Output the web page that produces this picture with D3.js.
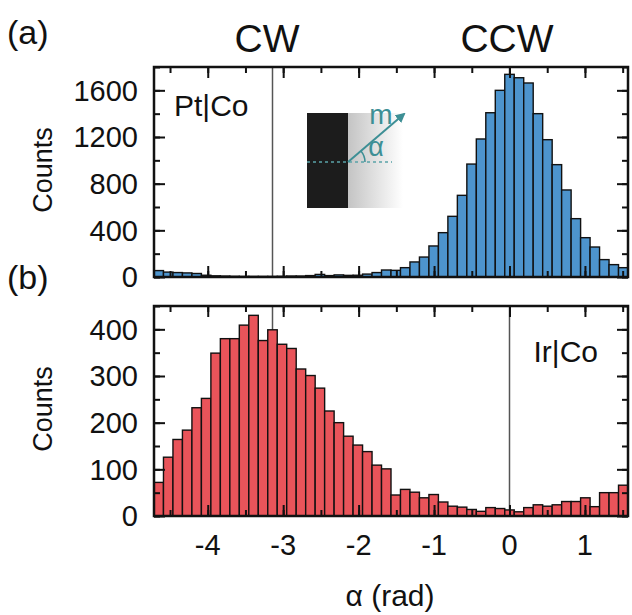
<!DOCTYPE html>
<html>
<head>
<meta charset="utf-8">
<script src="https://cdn.jsdelivr.net/npm/d3@7/dist/d3.min.js"></script>
<style>
  html, body { margin: 0; padding: 0; background: #fff; }
  svg { display: block; font-family: "Liberation Sans", Arial, sans-serif; }
</style>
</head>
<body>
<svg id="chart" width="632" height="615"></svg>
<script>
// ---- data ----
const binIndex = d3.range(-37, 13);            // bin k, centred at k*pi/25
const ptCoCounts = [55, 42, 38, 35, 30, 15, 10, 8, 6, 5, 5, 5, 5, 6, 8, 8, 12, 22, 12, 18,
  14, 15, 25, 38, 60, 57, 80, 129, 171, 266, 380, 520, 700, 968, 1183, 1408, 1600, 1737, 1708, 1663,
  1400, 1177, 963, 746, 500, 337, 257, 149, 106, 80];
const irCoCounts = [72, 126, 164, 184, 232, 252, 349, 380, 380, 409, 430, 376, 399, 368, 359, 315, 301, 274, 225, 200,
  171, 152, 138, 109, 101, 45, 57, 51, 39, 46, 30, 21, 19, 14, 10, 18, 16, 13, 9, 18,
  24, 21, 24, 31, 31, 39, 20, 50, 50, 66];
const xTicks = [-4, -3, -2, -1, 0, 1];
const topYTicks = [0, 400, 800, 1200, 1600];
const botYTicks = [0, 100, 200, 300, 400];
const markerLines = [-Math.PI, 0];

const binWidth = Math.PI / 25;
const svg = d3.select("#chart");

const x = d3.scaleLinear().domain([-1.5 * Math.PI, 0.5 * Math.PI]).range([154, 628]);

const panels = [
  { counts: ptCoCounts, y: d3.scaleLinear().domain([0, 1800]).range([277, 67]),
    ticks: topYTicks, minor: d3.range(0, 1801, 200), fill: "#4d94cd", label: "Pt|Co",
    labelX: 174, labelY: 116, labelAnchor: "start" },
  { counts: irCoCounts, y: d3.scaleLinear().domain([0, 450]).range([516, 306]),
    ticks: botYTicks, minor: d3.range(0, 451, 50), fill: "#e9545a", label: "Ir|Co",
    labelX: 598, labelY: 362, labelAnchor: "end" }
];

const xMinor = d3.range(-4.5, 1.6, 0.5);

panels.forEach((p, pi) => {
  const y = p.y;
  const [yb, yt] = y.range();
  const g = svg.append("g");

  // vertical marker lines (behind bars)
  g.selectAll("line.marker").data(markerLines).join("line")
    .attr("x1", d => x(d)).attr("x2", d => x(d))
    .attr("y1", yt).attr("y2", yb)
    .attr("stroke", "#555").attr("stroke-width", 1.5);

  // bars
  g.selectAll("rect.bar").data(binIndex.map((k, i) => ({ c: k * binWidth, v: p.counts[i] })))
    .join("rect")
    .attr("x", d => x(d.c - binWidth / 2))
    .attr("width", d => x(d.c + binWidth / 2) - x(d.c - binWidth / 2))
    .attr("y", d => y(d.v))
    .attr("height", d => yb - y(d.v))
    .attr("fill", p.fill)
    .attr("stroke", "#111").attr("stroke-width", 1.4);

  // ticks (inward) x: top & bottom
  const xAxB = d3.axisBottom(x).tickValues(xTicks).tickSize(-11).tickFormat("");
  const xAxT = d3.axisTop(x).tickValues(xTicks).tickSize(-11).tickFormat("");
  const xmB = d3.axisBottom(x).tickValues(xMinor).tickSize(-6).tickFormat("");
  const xmT = d3.axisTop(x).tickValues(xMinor).tickSize(-6).tickFormat("");
  [[xAxB, yb], [xmB, yb], [xAxT, yt], [xmT, yt]].forEach(([ax, yy]) => {
    const a = g.append("g").attr("transform", `translate(0,${yy})`).call(ax);
    a.select(".domain").remove();
    a.selectAll("line").attr("stroke", "#111").attr("stroke-width", 2);
  });
  const yAxL = d3.axisLeft(y).tickValues(p.ticks).tickSize(-11).tickFormat("");
  const yAxR = d3.axisRight(y).tickValues(p.ticks).tickSize(-11).tickFormat("");
  const ymL = d3.axisLeft(y).tickValues(p.minor).tickSize(-6).tickFormat("");
  const ymR = d3.axisRight(y).tickValues(p.minor).tickSize(-6).tickFormat("");
  [[yAxL, 154], [ymL, 154], [yAxR, 628], [ymR, 628]].forEach(([ax, xx]) => {
    const a = g.append("g").attr("transform", `translate(${xx},0)`).call(ax);
    a.select(".domain").remove();
    a.selectAll("line").attr("stroke", "#111").attr("stroke-width", 2);
  });

  // y tick labels
  g.selectAll("text.ytl").data(p.ticks).join("text")
    .attr("x", 138).attr("y", d => y(d)).attr("dy", "0.36em")
    .attr("text-anchor", "end").attr("font-size", 29).attr("fill", "#111")
    .text(d => d);

  // frame
  g.append("rect").attr("x", 154).attr("y", yt).attr("width", 628 - 154).attr("height", yb - yt)
    .attr("fill", "none").attr("stroke", "#111").attr("stroke-width", 2.5);

  // y title
  g.append("text")
    .attr("transform", `translate(52,${(yt + yb) / 2 - 2}) rotate(-90)`)
    .attr("text-anchor", "middle").attr("font-size", 27).attr("fill", "#111")
    .text("Counts");

  // sample label
  g.append("text").attr("x", p.labelX).attr("y", p.labelY)
    .attr("text-anchor", p.labelAnchor).attr("font-size", 30).attr("fill", "#111")
    .text(p.label);
});

// x tick labels (bottom)
svg.selectAll("text.xtl").data(xTicks).join("text")
  .attr("x", d => x(d)).attr("y", 555)
  .attr("text-anchor", "middle").attr("font-size", 29).attr("fill", "#111")
  .text(d => d);

svg.append("text").attr("x", 390).attr("y", 606).attr("text-anchor", "middle")
  .attr("font-size", 30).attr("fill", "#111").text("α (rad)");

// panel letters and headings
svg.append("text").attr("x", 7).attr("y", 44).attr("font-size", 34).attr("fill", "#111").text("(a)");
svg.append("text").attr("x", 7).attr("y", 289).attr("font-size", 34).attr("fill", "#111").text("(b)");
svg.append("text").attr("x", 267).attr("y", 52).attr("text-anchor", "middle")
  .attr("font-size", 39).attr("fill", "#111").text("CW");
svg.append("text").attr("x", 507).attr("y", 52).attr("text-anchor", "middle")
  .attr("font-size", 39).attr("fill", "#111").text("CCW");

// inset
const defs = svg.append("defs");
const grad = defs.append("linearGradient").attr("id", "shade").attr("x1", "0").attr("x2", "1");
grad.append("stop").attr("offset", "0").attr("stop-color", "#c4c4c4");
grad.append("stop").attr("offset", "1").attr("stop-color", "#ffffff");
defs.append("marker").attr("id", "ah").attr("viewBox", "0 0 10 10").attr("refX", 8).attr("refY", 5)
  .attr("markerWidth", 5).attr("markerHeight", 5).attr("orient", "auto")
  .append("path").attr("d", "M0,0 L10,5 L0,10 z").attr("fill", "#3d8f95");

const inset = svg.append("g");
inset.append("rect").attr("x", 348).attr("y", 113).attr("width", 55).attr("height", 95).attr("fill", "url(#shade)");
inset.append("rect").attr("x", 307).attr("y", 113).attr("width", 41).attr("height", 95).attr("fill", "#1c1c1c");
inset.append("line").attr("x1", 307).attr("x2", 392).attr("y1", 162).attr("y2", 162)
  .attr("stroke", "#5aa3a8").attr("stroke-width", 1.5).attr("stroke-dasharray", "3,3");
inset.append("line").attr("x1", 348).attr("y1", 162).attr("x2", 404).attr("y2", 114)
  .attr("stroke", "#3d8f95").attr("stroke-width", 2).attr("marker-end", "url(#ah)");
const ang = Math.atan2(162 - 114, 404 - 348);
const r = 17;
inset.append("path")
  .attr("d", `M${348 + r},162 A${r},${r} 0 0 0 ${348 + r * Math.cos(ang)},${162 - r * Math.sin(ang)}`)
  .attr("fill", "none").attr("stroke", "#3d8f95").attr("stroke-width", 1.5);
inset.append("text").attr("x", 381).attr("y", 124).attr("text-anchor", "middle")
  .attr("font-size", 28).attr("fill", "#3d8f95").text("m");
inset.append("text").attr("x", 376).attr("y", 156).attr("text-anchor", "middle")
  .attr("font-size", 27).attr("fill", "#3d8f95").text("α");
</script>
</body>
</html>
